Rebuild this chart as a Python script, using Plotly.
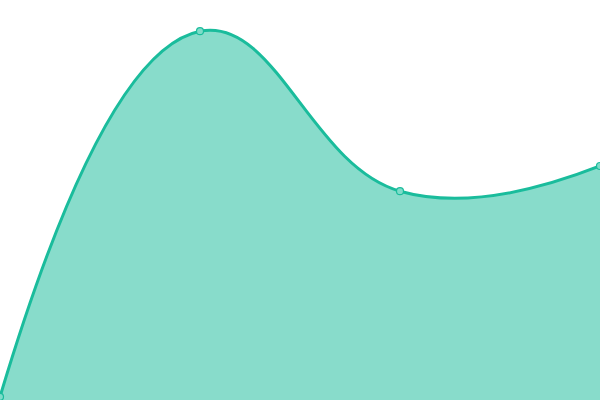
import plotly.graph_objects as go

# four samples, evenly spaced along x
x_vals = [0, 1, 2, 3]
y_vals = [0.8, 92.2, 52.2, 58.5]

line_color = "#1abc9c"
fill_color = "rgba(26,188,156,0.52)"

fig = go.Figure()
fig.add_trace(go.Scatter(
    x=x_vals,
    y=y_vals,
    mode="lines+markers",
    line=dict(color=line_color, width=3, shape="spline", smoothing=1.25),
    marker=dict(size=7, color="#7fdcc9", line=dict(color=line_color, width=1.2)),
    fill="tozeroy",
    fillcolor=fill_color,
    cliponaxis=False,
    hoverinfo="skip",
))

fig.update_layout(
    width=600,
    height=400,
    margin=dict(l=0, r=0, t=0, b=0),
    paper_bgcolor="white",
    plot_bgcolor="white",
    showlegend=False,
    xaxis=dict(visible=False, range=[0, 3], fixedrange=True),
    yaxis=dict(visible=False, range=[0, 100], fixedrange=True),
)

# drop the default body margin so the chart fills the window exactly
fig.write_html(
    "out.html",
    config={"displayModeBar": False},
    post_script="document.body.style.margin='0';document.body.style.overflow='hidden';",
)
